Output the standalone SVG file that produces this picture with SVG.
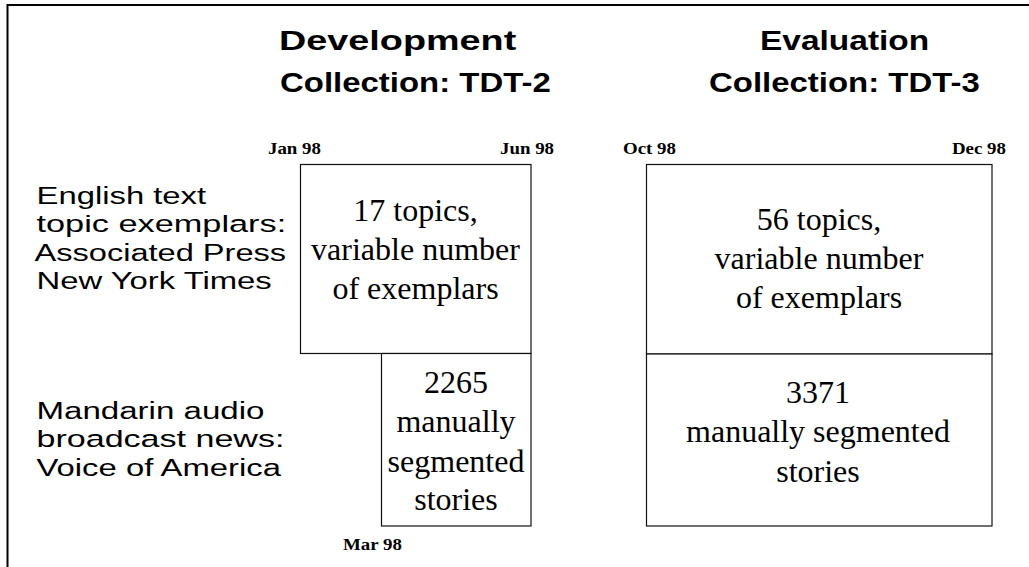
<svg xmlns="http://www.w3.org/2000/svg" width="1029" height="567" viewBox="0 0 1029 567">
  <style>
    .title { font-family: "Liberation Sans", Arial, sans-serif; font-weight: bold; font-size: 27px; fill: #000; }
    .label { font-family: "Liberation Sans", Arial, sans-serif; font-size: 24.5px; fill: #000; }
    .date { font-family: "Liberation Serif", "Times New Roman", serif; font-weight: bold; font-size: 16px; fill: #000; }
    .box { fill: #fff; stroke: #111; stroke-width: 1.2; }
    .boxtext { font-family: "Liberation Serif", "Times New Roman", serif; font-size: 32px; fill: #000; text-anchor: middle; }
    .frame { fill: none; stroke: #000; stroke-width: 2; }
  </style>

  <rect width="1029" height="567" fill="#fff"/>
  <path class="frame" d="M7.5,567 V5 H1029"/>

  <!-- column headings (wide-set lettering) -->
  <g id="heading-dev">
    <text class="title" transform="matrix(1.40 0 0 1 279 50)">Development</text>
    <text class="title" transform="matrix(1.22 0 0 1 280 92)">Collection: TDT-2</text>
  </g>
  <g id="heading-eval">
    <text class="title" transform="matrix(1.24 0 0 1 760 50)">Evaluation</text>
    <text class="title" transform="matrix(1.22 0 0 1 709 92)">Collection: TDT-3</text>
  </g>

  <!-- row labels -->
  <g id="label-english">
    <text class="label" transform="matrix(1.34 0 0 1 36.5 204)">English text</text>
    <text class="label" transform="matrix(1.40 0 0 1 36.5 232.3)">topic exemplars:</text>
    <text class="label" transform="matrix(1.33 0 0 1 34.5 260.7)">Associated Press</text>
    <text class="label" transform="matrix(1.34 0 0 1 36.5 289)">New York Times</text>
  </g>
  <g id="label-mandarin">
    <text class="label" transform="matrix(1.35 0 0 1 36.5 418.5)">Mandarin audio</text>
    <text class="label" transform="matrix(1.39 0 0 1 36.5 447)">broadcast news:</text>
    <text class="label" transform="matrix(1.34 0 0 1 36.5 475.5)">Voice of America</text>
  </g>

  <!-- date marks -->
  <g id="dates">
    <text class="date" transform="matrix(1.18 0 0 1 268 154)">Jan 98</text>
    <text class="date" transform="matrix(1.18 0 0 1 500 154)">Jun 98</text>
    <text class="date" transform="matrix(1.18 0 0 1 623 154)">Oct 98</text>
    <text class="date" transform="matrix(1.18 0 0 1 952 154)">Dec 98</text>
    <text class="date" transform="matrix(1.18 0 0 1 343 550)">Mar 98</text>
  </g>

  <!-- TDT-2 blocks -->
  <g id="dev-english">
    <rect class="box" x="300.5" y="164.5" width="230.5" height="189"/>
    <text class="boxtext" x="415.5" y="220.7">17 topics,</text>
    <text class="boxtext" x="415.5" y="260">variable number</text>
    <text class="boxtext" x="415.5" y="299.3">of exemplars</text>
  </g>
  <g id="dev-mandarin">
    <rect class="box" x="381.5" y="353.5" width="149.5" height="172.5"/>
    <text class="boxtext" x="456" y="393.3">2265</text>
    <text class="boxtext" x="456" y="431.7">manually</text>
    <text class="boxtext" x="456" y="471.7">segmented</text>
    <text class="boxtext" x="456" y="510">stories</text>
  </g>

  <!-- TDT-3 blocks -->
  <g id="eval-english">
    <rect class="box" x="646.5" y="164.5" width="345.5" height="189.5"/>
    <text class="boxtext" x="819" y="230">56 topics,</text>
    <text class="boxtext" x="819" y="269.3">variable number</text>
    <text class="boxtext" x="819" y="308.3">of exemplars</text>
  </g>
  <g id="eval-mandarin">
    <rect class="box" x="646.5" y="354" width="345.5" height="172"/>
    <text class="boxtext" x="818" y="402.7">3371</text>
    <text class="boxtext" x="818" y="441.7">manually segmented</text>
    <text class="boxtext" x="818" y="481.7">stories</text>
  </g>

  <g id="connectors"></g>
</svg>
